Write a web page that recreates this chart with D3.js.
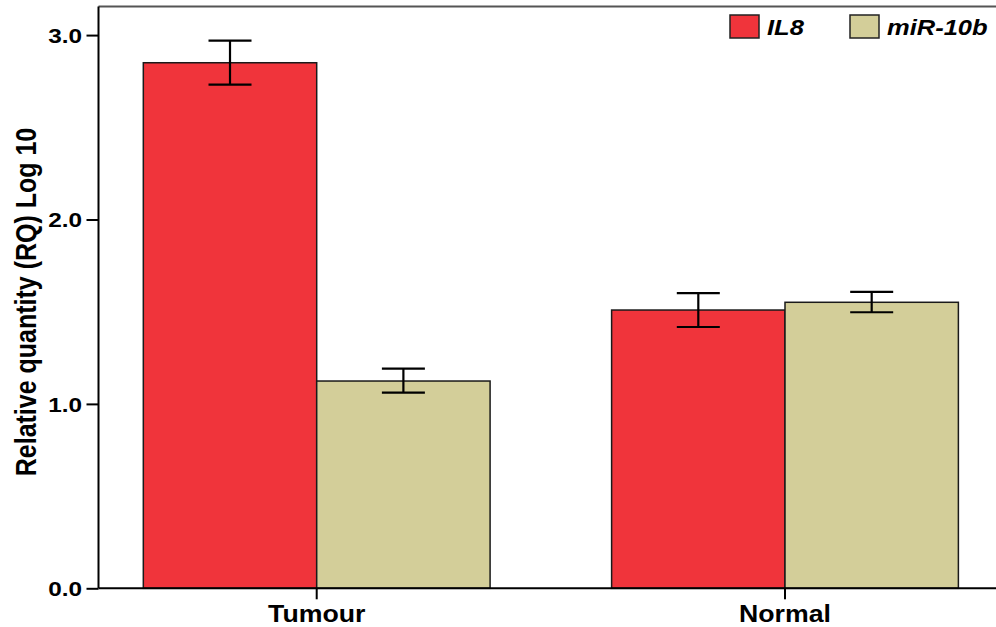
<!DOCTYPE html>
<html>
<head>
<meta charset="utf-8">
<script src="https://cdn.jsdelivr.net/npm/d3@7"></script>
<style>
  html, body { margin: 0; padding: 0; background: #fff; }
  svg { display: block; }
  text { font-family: "Liberation Sans", Arial, Helvetica, sans-serif; font-weight: bold; fill: #000; }
</style>
</head>
<body>
<svg id="chart" width="996" height="627"></svg>
<script>
// ---- data ----
const categories = ["Tumour", "Normal"];
const seriesNames = ["IL8", "miR-10b"];
const il8Values = [2.850, 1.509];
const il8ErrHigh = [2.970, 1.601];
const il8ErrLow = [2.731, 1.417];
const mirValues = [1.124, 1.551];
const mirErrHigh = [1.191, 1.607];
const mirErrLow = [1.061, 1.497];
const yTickValues = [0, 1, 2, 3];
const yTickLabels = ["0.0", "1.0", "2.0", "3.0"];
const colors = ["#F0343B", "#D3CE99"];
const yAxisTitle = "Relative quantity (RQ) Log 10";

// ---- layout ----
const SX = 1.16; // horizontal text stretch seen in the reference
const svg = d3.select("#chart");
const pLeft = 98.5, pRight = 1003.2, pTop = 6.5, pBottom = 588.3;
const yMax = 3.155;

const x0 = d3.scaleBand().domain(categories).range([pLeft, pRight])
  .paddingInner(0.2595).paddingOuter(0.0957);
const x1 = d3.scaleBand().domain(seriesNames).range([0, x0.bandwidth()]).padding(0);
const y = d3.scaleLinear().domain([0, yMax]).range([pBottom, pTop]);

const rows = categories.map((c, i) => [
  { cat: c, s: seriesNames[0], v: il8Values[i], hi: il8ErrHigh[i], lo: il8ErrLow[i], col: colors[0] },
  { cat: c, s: seriesNames[1], v: mirValues[i], hi: mirErrHigh[i], lo: mirErrLow[i], col: colors[1] }
]).flat();

// top frame line
svg.append("line").attr("x1", pLeft).attr("x2", 996).attr("y1", pTop).attr("y2", pTop)
  .attr("stroke", "#555").attr("stroke-width", 2);

// bars
svg.append("g").selectAll("rect").data(rows).join("rect")
  .attr("x", d => x0(d.cat) + x1(d.s))
  .attr("y", d => y(d.v))
  .attr("width", x1.bandwidth())
  .attr("height", d => y(0) - y(d.v))
  .attr("fill", d => d.col)
  .attr("stroke", "#1a1a1a").attr("stroke-width", 1.5);

// error bars
const capW = 43;
const eb = svg.append("g").attr("stroke", "#000").attr("stroke-width", 2.2);
rows.forEach(d => {
  const cx = x0(d.cat) + x1(d.s) + x1.bandwidth() / 2;
  eb.append("line").attr("x1", cx).attr("x2", cx).attr("y1", y(d.hi)).attr("y2", y(d.lo));
  eb.append("line").attr("x1", cx - capW / 2).attr("x2", cx + capW / 2).attr("y1", y(d.hi)).attr("y2", y(d.hi));
  eb.append("line").attr("x1", cx - capW / 2).attr("x2", cx + capW / 2).attr("y1", y(d.lo)).attr("y2", y(d.lo));
});

// y axis
const yAxis = svg.append("g").attr("transform", `translate(${pLeft},0)`)
  .call(d3.axisLeft(y).tickValues(yTickValues).tickSize(12).tickFormat((d, i) => yTickLabels[i]));
yAxis.select(".domain").attr("stroke", "#000").attr("stroke-width", 2).attr("d", `M0,${pTop}V${pBottom}`);
yAxis.selectAll(".tick line").attr("stroke", "#000").attr("stroke-width", 2);
yAxis.selectAll(".tick text")
  .attr("x", null).attr("dy", null)
  .attr("font-size", 21).attr("font-family", null).attr("font-weight", "bold")
  .attr("text-anchor", "end")
  .attr("transform", `translate(-16.5,7.5) scale(${SX},1)`);

// x axis
const xAxis = svg.append("g").attr("transform", `translate(0,${pBottom})`)
  .call(d3.axisBottom(x0).tickSize(11));
xAxis.select(".domain").attr("stroke", "#000").attr("stroke-width", 2).attr("d", `M${pLeft},0H996`);
xAxis.selectAll(".tick line").attr("stroke", "#000").attr("stroke-width", 2);
xAxis.selectAll(".tick text")
  .attr("y", null).attr("dy", null)
  .attr("font-size", 23).attr("font-family", null).attr("font-weight", "bold")
  .attr("transform", `translate(0,33.5) scale(${SX},1)`);

// y axis title
svg.append("text")
  .attr("transform", `translate(36,302) scale(${SX},1) rotate(-90)`)
  .attr("text-anchor", "middle")
  .attr("font-size", 25)
  .text(yAxisTitle);

// legend
const legendX = [730, 850];
const lg = svg.append("g");
seriesNames.forEach((s, i) => {
  lg.append("rect").attr("x", legendX[i]).attr("y", 15).attr("width", 29).attr("height", 23)
    .attr("fill", colors[i]).attr("stroke", "#222").attr("stroke-width", 1.5);
  lg.append("text")
    .attr("transform", `translate(${legendX[i] + 37},35) scale(${SX},1)`)
    .attr("font-size", 22).attr("font-style", "italic")
    .text(s);
});
</script>
</body>
</html>
